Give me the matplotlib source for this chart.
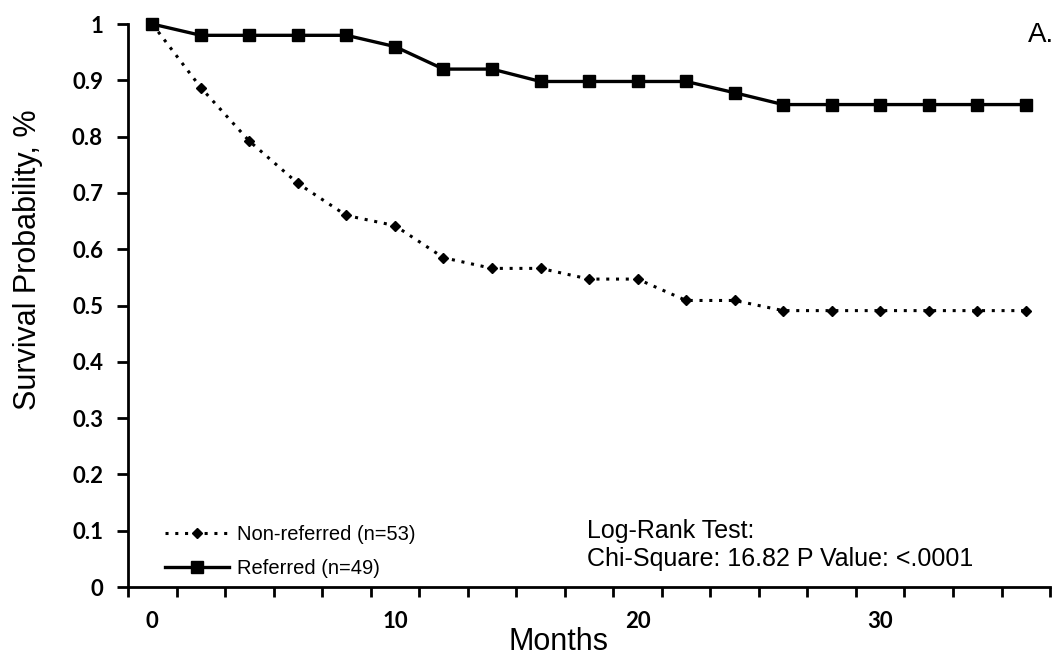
import matplotlib
matplotlib.use("Agg")
import matplotlib.pyplot as plt
from matplotlib.ticker import FixedLocator, NullFormatter

months = [0, 2, 4, 6, 8, 10, 12, 14, 16, 18, 20, 22, 24, 26, 28, 30, 32, 34, 36]
referred = [1.0, 0.98, 0.98, 0.98, 0.98, 0.96, 0.92, 0.92, 0.898, 0.898, 0.898,
            0.898, 0.878, 0.857, 0.857, 0.857, 0.857, 0.857, 0.857]
non_referred = [1.0, 0.887, 0.792, 0.717, 0.66, 0.642, 0.585, 0.566, 0.566, 0.547,
                0.547, 0.509, 0.509, 0.491, 0.491, 0.491, 0.491, 0.491, 0.491]
x_labels = [0, 10, 20, 30]
y_ticks = [0, 0.1, 0.2, 0.3, 0.4, 0.5, 0.6, 0.7, 0.8, 0.9, 1]
y_tick_labels = ['0', '0.1', '0.2', '0.3', '0.4', '0.5', '0.6', '0.7', '0.8', '0.9', '1']
label_nonref = "Non-referred (n=53)"
label_ref = "Referred (n=49)"

plt.rcParams['font.family'] = ['Liberation Sans', 'DejaVu Sans']
tick_font = ['Lato', 'DejaVu Sans']

fig = plt.figure(figsize=(10.6, 6.59), dpi=100)
ax = fig.add_axes([0.1208, 0.1092, 0.8698, 0.8543])

ax.plot(months, non_referred, linestyle=(0, (1, 2.2)), color='black', linewidth=2.2,
        marker='D', markersize=5.5, label=label_nonref, clip_on=False, zorder=3)
ax.plot(months, referred, linestyle='-', color='black', linewidth=2.4,
        marker='s', markersize=8.5, label=label_ref, clip_on=False, zorder=4)

ax.set_xlim(-1, 37)
ax.set_ylim(0, 1)

ax.spines['top'].set_visible(False)
ax.spines['right'].set_visible(False)
ax.spines['left'].set_linewidth(2)
ax.spines['bottom'].set_linewidth(2)

ax.xaxis.set_major_locator(FixedLocator(list(range(-1, 38, 2))))
ax.xaxis.set_major_formatter(NullFormatter())
ax.tick_params(axis='x', which='major', length=7, width=2, direction='out')
ax.set_xticks(x_labels, minor=True)
ax.set_xticklabels([str(v) for v in x_labels], minor=True)
ax.tick_params(axis='x', which='minor', length=0, pad=17, labelsize=16)
for t in ax.get_xticklabels(minor=True):
    t.set_fontweight('bold')
    t.set_family(tick_font)

ax.set_yticks(y_ticks)
ax.set_yticklabels(y_tick_labels)
ax.tick_params(axis='y', length=8, width=2, direction='out', labelsize=16, pad=10)
for t in ax.get_yticklabels():
    t.set_fontweight('bold')
    t.set_family(tick_font)

ax.set_ylabel("Survival Probability, %", fontsize=22)
ax.yaxis.set_label_coords(-0.092, 0.581)
ax.set_xlabel("Months", fontsize=22)
ax.xaxis.set_label_coords(0.467, -0.071)

leg = ax.legend(loc='lower left', bbox_to_anchor=(0.02, -0.016), frameon=False,
                fontsize=14.5, handlelength=3.2, handletextpad=0.4, labelspacing=0.72)

ax.text(0.498, 0.0995, "Log-Rank Test:", transform=ax.transAxes, fontsize=18,
        va='center', ha='left')
ax.text(0.498, 0.0497, "Chi-Square: 16.82 P Value: <.0001", transform=ax.transAxes,
        fontsize=18, va='center', ha='left')
fig.text(0.970, 0.947, "A.", fontsize=20, ha='left', va='center')

fig.savefig("out.png", dpi=100)
